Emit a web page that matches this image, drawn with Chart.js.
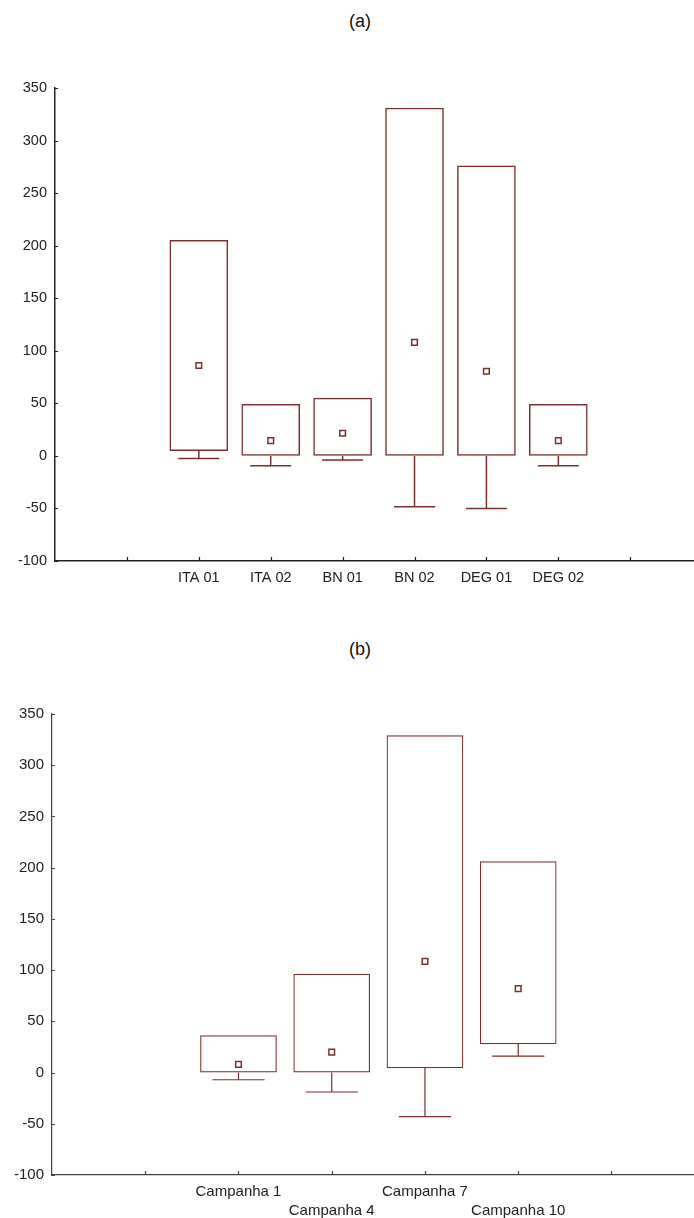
<!DOCTYPE html>
<html>
<head>
<meta charset="utf-8">
<script src="https://cdn.jsdelivr.net/npm/chart.js@4.4.1/dist/chart.umd.min.js"></script>
<style>
    html, body { margin: 0; padding: 0; background: #fff; }
    body { width: 694px; height: 1218px; position: relative; overflow: hidden; font-family: 'Liberation Sans', Arial, sans-serif; }
    .cap { position: absolute; left: 0; width: 720px; text-align: center; font-size: 18px; color: #111; }
    .box { position: absolute; left: 0; width: 699px; }
</style>
</head>
<body>
<div class="cap" style="top: 11px;">(a)</div>
<div class="box" style="top: 0; height: 620px;"><canvas id="chartA"></canvas></div>
<div class="cap" style="top: 639px;">(b)</div>
<div class="box" style="top: 620px; height: 598px;"><canvas id="chartB"></canvas></div>

<script>
// Valeurs
const groupsA = ['ITA 01', 'ITA 02', 'BN 01', 'BN 02', 'DEG 01', 'DEG 02'];
const boxLowA = [5, 0, 0, 0, 0, 0];
const boxHighA = [205, 49, 55, 331, 276, 49];
const meanA = [86, 14.5, 21.5, 108, 80.5, 14.5];
const whiskerA = [-2.5, -9.5, -4, -48.5, -50, -9.5];

const groupsB = ['Campanha 1', 'Campanha 4', 'Campanha 7', 'Campanha 10'];
const boxLowB = [0, 0, 4.5, 28];
const boxHighB = [36, 96, 329, 206];
const meanB = [8, 20, 108.5, 82];
const whiskerB = [-7, -19, -43, 16];

const yTicks = [-100, -50, 0, 50, 100, 150, 200, 250, 300, 350];

const FONT = "'Liberation Sans', Arial, sans-serif";
const RED = '#7b2f2f';

// petits traits de graduation vers l'intérieur
const inwardTicks = {
    id: 'inwardTicks',
    afterDraw(chart, args, opts) {
        const { ctx, scales: { x, y } } = chart;
        ctx.save();
        ctx.strokeStyle = opts.color;
        ctx.lineWidth = opts.width;
        ctx.beginPath();
        x.ticks.forEach(t => {
            if (t.value <= 0) return;
            const px = Math.round(x.getPixelForValue(t.value)) + 0.5;
            ctx.moveTo(px, y.bottom);
            ctx.lineTo(px, y.bottom - 4);
        });
        y.ticks.forEach(t => {
            const py = Math.round(y.getPixelForValue(t.value)) + 0.5;
            ctx.moveTo(x.left, py);
            ctx.lineTo(x.left + 3, py);
        });
        ctx.stroke();
        ctx.restore();
    }
};

function buildChart(id, cfg) {
    const pos = cfg.groups.map((g, i) => i + 2);
    const whiskerPts = [];
    cfg.groups.forEach((g, i) => {
        whiskerPts.push({ x: pos[i], y: cfg.low[i] });
        whiskerPts.push({ x: pos[i], y: cfg.whisker[i] });
        whiskerPts.push({ x: pos[i] - cfg.cap, y: cfg.whisker[i] });
        whiskerPts.push({ x: pos[i] + cfg.cap, y: cfg.whisker[i] });
        whiskerPts.push({ x: pos[i], y: null });
    });

    return new Chart(document.getElementById(id), {
        type: 'bar',
        data: {
            datasets: [
                {
                    type: 'line',
                    data: cfg.groups.map((g, i) => ({ x: pos[i], y: cfg.mean[i] })),
                    showLine: false,
                    pointStyle: 'rect',
                    pointRadius: 4,
                    pointBackgroundColor: '#fff',
                    pointBorderColor: RED,
                    pointBorderWidth: 1.5,
                    order: 0
                },
                {
                    type: 'line',
                    data: whiskerPts,
                    borderColor: RED,
                    borderWidth: cfg.lw,
                    pointRadius: 0,
                    spanGaps: false,
                    tension: 0,
                    order: 1
                },
                {
                    data: cfg.groups.map((g, i) => ({ x: pos[i], y: [cfg.low[i], cfg.high[i]] })),
                    backgroundColor: '#fff',
                    borderColor: RED,
                    borderWidth: cfg.lw,
                    borderSkipped: false,
                    barThickness: cfg.barW,
                    order: 2
                }
            ]
        },
        options: {
            responsive: true,
            maintainAspectRatio: false,
            animation: false,
            layout: { padding: { top: cfg.top, right: 0, left: 0, bottom: 0 } },
            plugins: {
                legend: { display: false },
                tooltip: { enabled: false },
                inwardTicks: { color: cfg.axisColor, width: 1.2 }
            },
            scales: {
                x: {
                    type: 'linear',
                    offset: false,
                    min: 0,
                    max: cfg.xMax,
                    afterFit: s => { s.height = cfg.xH; },
                    afterBuildTicks: s => { s.ticks = Array.from({ length: Math.floor(cfg.xMax) + 1 }, (v, k) => ({ value: k })); },
                    grid: { display: true, offset: false, drawOnChartArea: false, drawTicks: false },
                    border: { display: true, color: cfg.axisColor, width: cfg.axisW },
                    ticks: {
                        autoSkip: false,
                        maxRotation: 0,
                        padding: 8,
                        color: '#222',
                        font: { family: FONT, size: cfg.fs, lineHeight: 1.22 },
                        callback: v => {
                            const i = v - 2;
                            if (i < 0 || i >= cfg.groups.length) return '';
                            return cfg.stagger && i % 2 === 1 ? ['', cfg.groups[i]] : cfg.groups[i];
                        }
                    }
                },
                y: {
                    min: -100,
                    max: 350,
                    afterFit: s => { s.width = cfg.yW; },
                    afterBuildTicks: s => { s.ticks = yTicks.map(v => ({ value: v })); },
                    grid: { display: true, drawOnChartArea: false, drawTicks: false },
                    border: { display: true, color: cfg.axisColor, width: cfg.axisW },
                    ticks: {
                        padding: 8,
                        color: '#222',
                        font: { family: FONT, size: cfg.fs }
                    }
                }
            }
        },
        plugins: [inwardTicks]
    });
}

buildChart('chartA', {
    groups: groupsA, low: boxLowA, high: boxHighA, mean: meanA, whisker: whiskerA,
    cap: 0.285, barW: 58, xMax: 8.88, yW: 55, xH: 59, top: 88,
    lw: 1.5, axisW: 1.5, axisColor: '#222', fs: 14.5, stagger: false
});

buildChart('chartB', {
    groups: groupsB, low: boxLowB, high: boxHighB, mean: meanB, whisker: whiskerB,
    cap: 0.28, barW: 76, xMax: 6.88, yW: 52, xH: 43, top: 94,
    lw: 1.2, axisW: 1.2, axisColor: '#444', fs: 15, stagger: true
});
</script>
</body>
</html>
